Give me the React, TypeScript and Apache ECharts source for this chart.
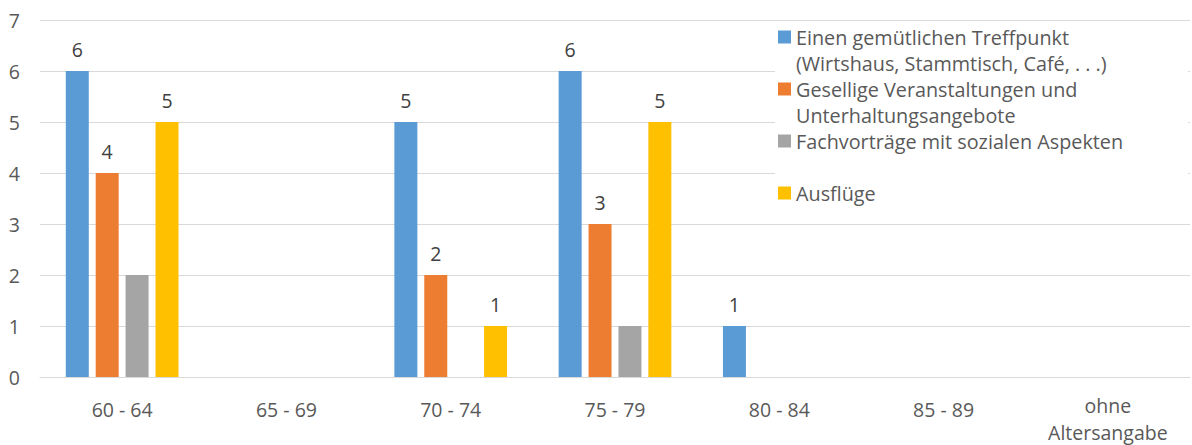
import React, { useEffect, useRef } from "react";
import * as echarts from "echarts";

const categories = ["60 - 64", "65 - 69", "70 - 74", "75 - 79", "80 - 84", "85 - 89", "ohne\nAltersangabe"];
const seriesNames = [
  "Einen gemütlichen Treffpunkt (Wirtshaus, Stammtisch, Café, . . .)",
  "Gesellige Veranstaltungen und Unterhaltungsangebote",
  "Fachvorträge mit sozialen Aspekten",
  "Ausflüge",
];
const legendLines: Record<string, string[]> = {
  [seriesNames[0]]: ["Einen gemütlichen Treffpunkt", "(Wirtshaus, Stammtisch, Café, . . .)"],
  [seriesNames[1]]: ["Gesellige Veranstaltungen und", "Unterhaltungsangebote"],
  [seriesNames[2]]: ["Fachvorträge mit sozialen Aspekten", " "],
  [seriesNames[3]]: ["Ausflüge", " "],
};
const treffpunkt = [6, 0, 5, 6, 1, 0, 0];
const veranstaltungen = [4, 0, 2, 3, 0, 0, 0];
const fachvortraege = [2, 0, 0, 1, 0, 0, 0];
const ausfluege = [5, 0, 1, 5, 0, 0, 0];
const showLabels = [true, true, false, true];
const colors = ["#5B9BD5", "#ED7D31", "#A5A5A5", "#FFC000"];
const yTicks = [0, 1, 2, 3, 4, 5, 6, 7];

export default function App() {
  const ref = useRef<HTMLDivElement>(null);
  useEffect(() => {
    if (!ref.current) return;
    const chart = echarts.init(ref.current, undefined, { renderer: "svg" });
    const font = "'Open Sans', 'Noto Sans', sans-serif";
    const data = [treffpunkt, veranstaltungen, fachvortraege, ausfluege];
    chart.setOption({
      animation: false,
      textStyle: { fontFamily: font },
      grid: {
        left: 40,
        right: 2,
        top: 20,
        bottom: 68,
        containLabel: false,
        outerBoundsMode: "none",
      },
      xAxis: {
        type: "category",
        data: categories,
        axisLine: { show: true, lineStyle: { color: "#D9D9D9", width: 1 } },
        axisTick: { show: false },
        axisLabel: {
          color: "#595959",
          fontSize: 19.5,
          fontFamily: font,
          margin: 14.5,
          interval: 0,
          formatter: (v: string) =>
            v.indexOf("\n") >= 0
              ? v.split("\n").map((l) => `{m|${l}}`).join("\n")
              : `{s|${v}}`,
          rich: {
            s: { lineHeight: 35, fontSize: 19.5, color: "#595959", fontFamily: font },
            m: { lineHeight: 27, fontSize: 19.5, color: "#595959", fontFamily: font },
          },
        },
      },
      yAxis: {
        type: "value",
        min: yTicks[0],
        max: yTicks[yTicks.length - 1],
        interval: 1,
        axisLine: { show: false },
        axisTick: { show: false },
        splitLine: { lineStyle: { color: "#D9D9D9", width: 1 } },
        axisLabel: { color: "#595959", fontSize: 19.5, fontFamily: font, margin: 20, align: "right" },
      },
      legend: {
        orient: "vertical",
        left: 778,
        top: -2,
        padding: 0,
        itemWidth: 13,
        itemHeight: 13,
        itemGap: -26,
        icon: "rect",
        selectedMode: false,
        data: seriesNames,
        formatter: (name: string) => [" "].concat(legendLines[name] ?? [name]).join("\n"),
        textStyle: {
          color: "#595959",
          fontSize: 19.8,
          fontFamily: font,
          lineHeight: 26,
        },
        z: 5,
      },
      graphic: [
        {
          type: "rect",
          left: 775,
          top: 24,
          shape: { width: 413, height: 184 },
          style: { fill: "#FFFFFF" },
          z: 1,
          silent: true,
        },
      ],
      series: data.map((vals, i) => ({
        name: seriesNames[i],
        type: "bar",
        data: vals,
        barWidth: 23,
        barGap: "30%",
        itemStyle: { color: colors[i] },
        z: 2,
        label: {
          show: showLabels[i],
          position: "top",
          distance: 12,
          color: "#404040",
          fontSize: 19.5,
          fontFamily: font,
          formatter: (p: any) => (p.value ? String(p.value) : ""),
        },
      })),
    });
    return () => chart.dispose();
  }, []);
  return (
    <div
      ref={ref}
      style={{ position: "fixed", left: 0, top: 0, width: 1192, height: 445, background: "#fff" }}
    />
  );
}
